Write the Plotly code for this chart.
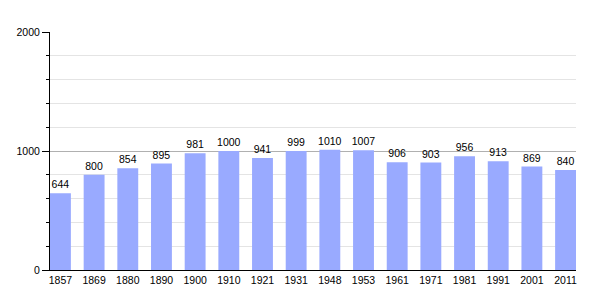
import plotly.graph_objects as go

years = ["1857", "1869", "1880", "1890", "1900", "1910", "1921", "1931",
         "1948", "1953", "1961", "1971", "1981", "1991", "2001", "2011"]
population = [644, 800, 854, 895, 981, 1000, 941, 999,
              1010, 1007, 906, 903, 956, 913, 869, 840]

fig = go.Figure()
fig.add_trace(go.Bar(
    x=years, y=population,
    width=0.62,
    marker=dict(color="#99aaff", line=dict(width=0)),
    text=[str(v) for v in population],
    textposition="outside",
    constraintext="none",
    textfont=dict(family="Liberation Sans, Arial, sans-serif", size=10.5, color="black"),
    cliponaxis=False,
))

fig.update_layout(
    width=605, height=300,
    margin=dict(l=50, r=29, t=32, b=30),
    paper_bgcolor="white", plot_bgcolor="white",
    font=dict(family="Liberation Sans, Arial, sans-serif", size=10.5, color="black"),
    showlegend=False,
    bargap=0.38,
)
fig.update_xaxes(
    type="category",
    range=[-0.31, 15.31],
    showline=True, linecolor="black", linewidth=1,
    ticks="", showgrid=False,
    tickfont=dict(size=10.5),
)
fig.update_yaxes(
    range=[0, 2000],
    tickvals=[0, 1000, 2000],
    ticktext=["0", "1000", "2000"],
    ticks="outside", ticklen=7, tickcolor="black", tickwidth=1,
    showline=True, linecolor="black", linewidth=1,
    showgrid=True, gridcolor="#b0b0b0", gridwidth=1,
    zeroline=False,
    minor=dict(dtick=200, tick0=0, ticks="outside", ticklen=3, tickcolor="black",
               showgrid=True, gridcolor="#e4e4e4", gridwidth=1),
    tickfont=dict(size=10.5),
)

fig.write_html("out.html")
